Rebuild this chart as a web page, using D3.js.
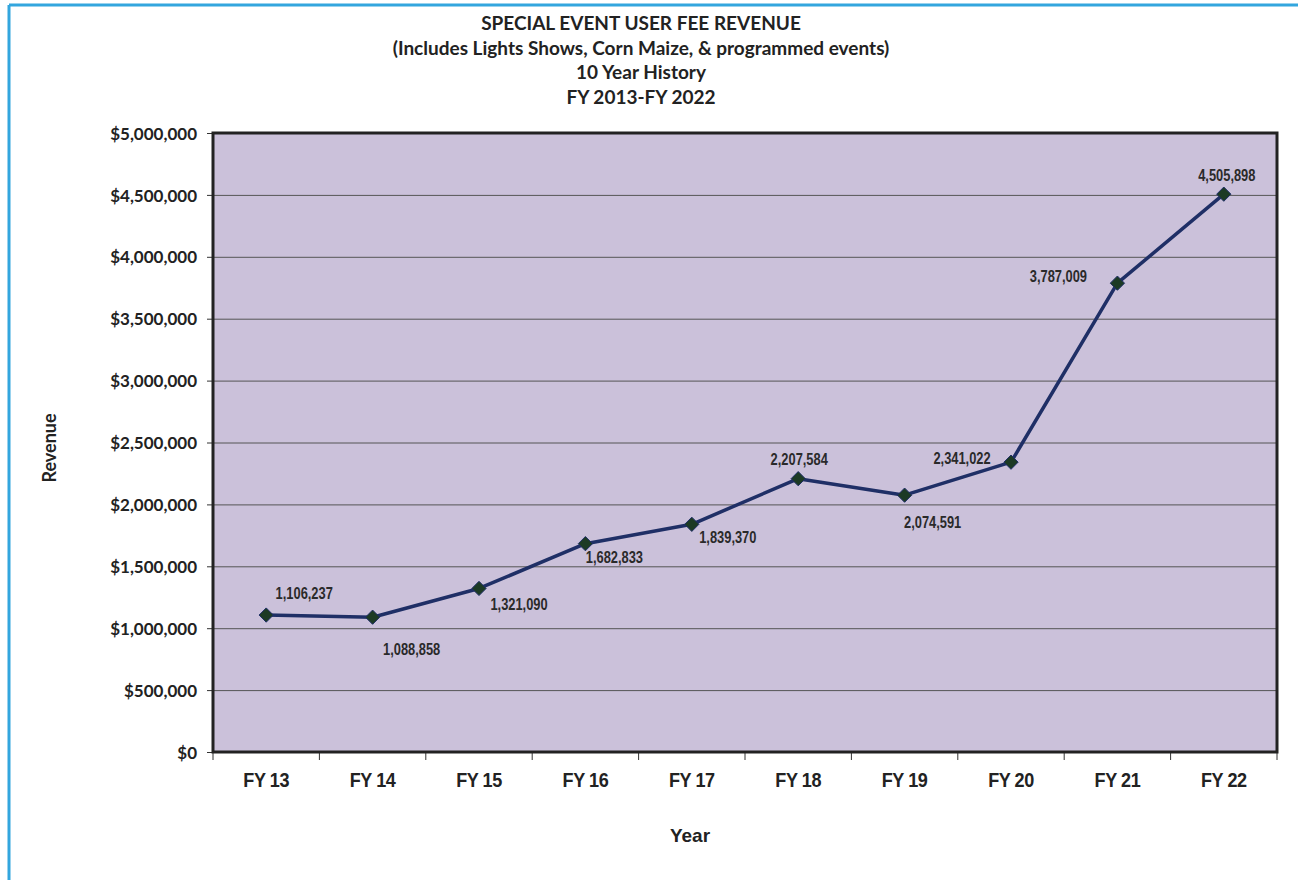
<!DOCTYPE html>
<html>
<head>
    <title>Special Event User Fee Revenue</title>
    <script src="https://d3js.org/d3.v7.min.js"></script>
    <style>
        body { margin: 0; background: #fff; }
        .title { font-family: Lato, "Open Sans", sans-serif; font-weight: bold; font-size: 19px; fill: #222; }
        .ytick text { font-family: Lato, "Open Sans", sans-serif; font-weight: bold; font-size: 17px; fill: #222; }
        .xtick text { font-family: "Liberation Sans", Arial, sans-serif; font-weight: bold; font-size: 21px; fill: #222; letter-spacing: -0.5px; }
        .vlabel { font-family: "Liberation Sans", Arial, sans-serif; font-weight: bold; font-size: 16.5px; fill: #2a2a2a; }
        .gridlines .tick line { stroke: #555; stroke-width: 1; }
        .gridlines .domain { visibility: hidden; }
    </style>
</head>
<body>
<script>
// data
const years = ["FY 13", "FY 14", "FY 15", "FY 16", "FY 17", "FY 18", "FY 19", "FY 20", "FY 21", "FY 22"];
const revenue = [1106237, 1088858, 1321090, 1682833, 1839370, 2207584, 2074591, 2341022, 3787009, 4505898];
const yTicks = [0, 500000, 1000000, 1500000, 2000000, 2500000, 3000000, 3500000, 4000000, 4500000, 5000000];
const titleLines = ["SPECIAL EVENT USER FEE REVENUE",
    "(Includes Lights Shows, Corn Maize, & programmed events)",
    "10 Year History",
    "FY 2013-FY 2022"];
// where each value label sits relative to its point
const labelOffsets = [[38, -22], [39, 32], [40, 16], [29, 14], [36, 13], [1, -19], [28, 27], [-49, -4], [-59, -7], [3, -19]];

const svgWidth = 1298, svgHeight = 880;
const margins = {top: 133, right: 21, bottom: 128, left: 213};
const chartWidth = svgWidth - margins.left - margins.right;
const chartHeight = svgHeight - margins.top - margins.bottom;

const svg = d3.select("body").append("svg")
    .attr("width", svgWidth)
    .attr("height", svgHeight);

// light blue frame (top + left visible)
svg.append("line").attr("x1", 9).attr("y1", 5).attr("x2", svgWidth).attr("y2", 5)
    .attr("stroke", "#33a6de").attr("stroke-width", 3);
svg.append("line").attr("x1", 9).attr("y1", 5).attr("x2", 9).attr("y2", svgHeight)
    .attr("stroke", "#33a6de").attr("stroke-width", 3);

svg.append("g").selectAll("text")
    .data(titleLines)
    .join("text")
    .attr("class", "title")
    .attr("x", 641)
    .attr("y", (d, i) => 30 + i * 24.5)
    .attr("text-anchor", "middle")
    .text(d => d);

const chartArea = svg.append("g")
    .attr("transform", "translate(" + margins.left + "," + margins.top + ")");

chartArea.append("rect")
    .attr("width", chartWidth)
    .attr("height", chartHeight)
    .attr("fill", "#cbc1da");

const xScale = d3.scaleBand().domain(years).range([0, chartWidth]);
const yScale = d3.scaleLinear().domain([0, 5000000]).range([chartHeight, 0]);

// gridlines
const yAxisGrid = d3.axisLeft(yScale).tickValues(yTicks).tickSize(-chartWidth).tickFormat("");
chartArea.append("g").attr("class", "gridlines").call(yAxisGrid);

// y axis
const yAxis = d3.axisLeft(yScale)
    .tickValues(yTicks)
    .tickSize(6)
    .tickPadding(10)
    .tickFormat(d => "$" + d3.format(",")(d));
const gy = chartArea.append("g").attr("class", "ytick").call(yAxis);
gy.select(".domain").remove();
gy.selectAll(".tick line").attr("stroke", "#333");
gy.selectAll(".tick text").attr("dy", "0.36em");

// x axis: ticks at band boundaries
const xBounds = years.map(d => xScale(d)).concat([chartWidth]);
chartArea.append("g").selectAll("line")
    .data(xBounds)
    .join("line")
    .attr("x1", d => d).attr("x2", d => d)
    .attr("y1", chartHeight).attr("y2", chartHeight + 8)
    .attr("stroke", "#333");
chartArea.append("g").attr("class", "xtick").selectAll("text")
    .data(years)
    .join("text")
    .attr("transform", d => "translate(" + (xScale(d) + xScale.bandwidth() / 2) + "," + (chartHeight + 35) + ") scale(0.86,1)")
    .attr("text-anchor", "middle")
    .text(d => d);

// plot border
chartArea.append("rect")
    .attr("width", chartWidth)
    .attr("height", chartHeight)
    .attr("fill", "none")
    .attr("stroke", "#222")
    .attr("stroke-width", 3);

// line
const points = years.map((y, i) => ({year: y, value: revenue[i], off: labelOffsets[i]}));
const line = d3.line()
    .x(d => xScale(d.year) + xScale.bandwidth() / 2)
    .y(d => yScale(d.value));
chartArea.append("path")
    .datum(points)
    .attr("d", line)
    .attr("fill", "none")
    .attr("stroke", "#1f2f66")
    .attr("stroke-width", 3.5)
    .attr("stroke-linejoin", "round");

chartArea.selectAll(".marker")
    .data(points)
    .join("path")
    .attr("class", "marker")
    .attr("d", d3.symbol().type(d3.symbolDiamond2).size(130))
    .attr("transform", d => "translate(" + (xScale(d.year) + xScale.bandwidth() / 2) + "," + yScale(d.value) + ")")
    .attr("fill", "#1c3a24")
    .attr("stroke", "#1f2f66")
    .attr("stroke-width", 1);

chartArea.selectAll(".vlabel")
    .data(points)
    .join("text")
    .attr("class", "vlabel")
    .attr("transform", d => "translate(" + (xScale(d.year) + xScale.bandwidth() / 2 + d.off[0]) + "," + (yScale(d.value) + d.off[1]) + ") scale(0.78,1)")
    .attr("dy", "0.35em")
    .attr("text-anchor", "middle")
    .text(d => d3.format(",")(d.value));

// axis titles
svg.append("text")
    .attr("transform", "translate(56,448) rotate(-90)")
    .attr("text-anchor", "middle")
    .style("font-family", "Lato, 'Open Sans', sans-serif")
    .style("font-weight", "bold")
    .style("font-size", "18px")
    .style("fill", "#222")
    .text("Revenue");

svg.append("text")
    .attr("x", 690)
    .attr("y", 842)
    .attr("text-anchor", "middle")
    .style("font-family", "'Liberation Sans', Arial, sans-serif")
    .style("font-weight", "bold")
    .style("font-size", "19px")
    .style("fill", "#222")
    .text("Year");
</script>
</body>
</html>
